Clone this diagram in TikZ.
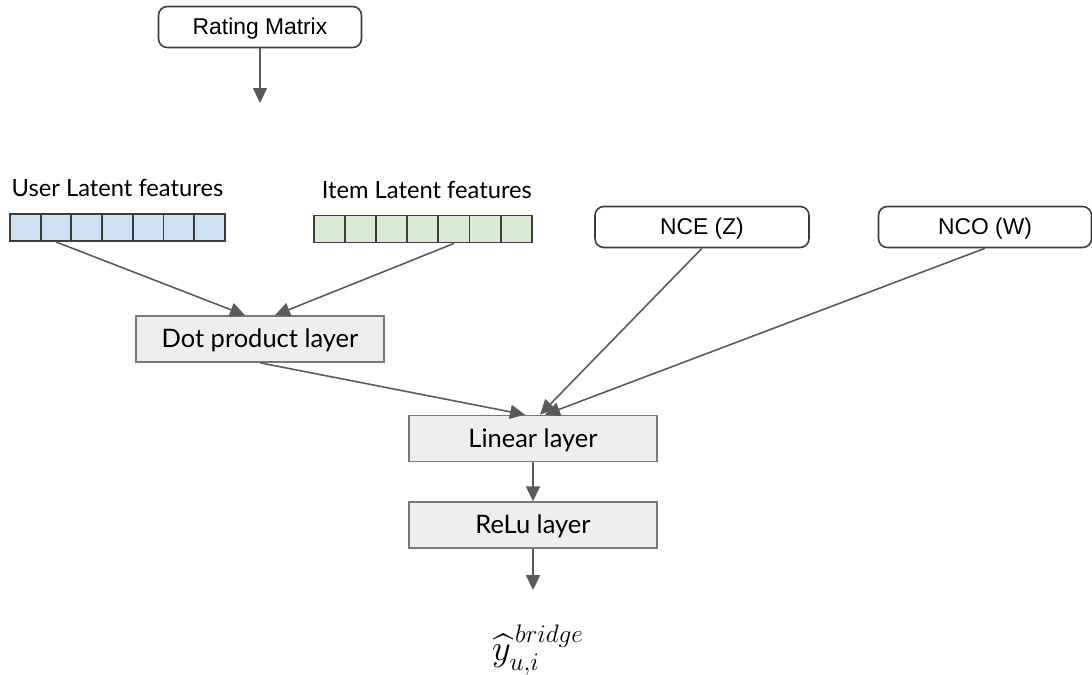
\documentclass[tikz,border=0pt]{standalone}
\usepackage{amsmath}
\usepackage{fontspec}
\usetikzlibrary{arrows.meta, positioning, calc}
\newfontfamily\latofont{Lato}
\newfontfamily\arialfont{Liberation Sans}
\definecolor{usercolor}{RGB}{207,226,243}
\definecolor{itemcolor}{RGB}{217,234,211}
\definecolor{layercolor}{RGB}{238,238,238}
\definecolor{layerborder}{RGB}{120,120,120}
\definecolor{boxborder}{RGB}{60,60,60}
\definecolor{linecolor}{RGB}{90,90,90}
\tikzset{
  inputbox/.style={draw=boxborder, rounded corners=5pt, line width=0.9pt,
                   minimum width=4.06cm, minimum height=0.82cm, fill=white,
                   text depth=0.05em,
                   font=\arialfont\fontsize{13}{15}\selectfont},
  layer/.style={draw=layerborder, fill=layercolor, line width=0.9pt,
                minimum width=4.96cm, minimum height=0.92cm, text depth=0.05em,
                font=\latofont\fontsize{14.5}{17}\selectfont},
  cell/.style={draw=boxborder, fill=#1, line width=1.1pt, inner sep=0pt,
               minimum width=0.614cm, minimum height=0.54cm},
  veclabel/.style={font=\latofont\fontsize{13.5}{16}\selectfont, inner sep=1pt},
  arrow/.style={-{Triangle[length=8.5pt, width=8pt]}, draw=linecolor,
                line width=0.9pt},
}

\begin{document}
\begin{tikzpicture}[x=0.02cm, y=-0.02cm]
  \useasboundingbox (0,0) rectangle (1092,674);

  % --- Inputs ---
  \node[inputbox] (rating) at (260,27) {Rating Matrix};
  \coordinate (ratingend) at (260,103);

  \foreach \k in {1,...,7} {
    \node[cell=usercolor] (u\k) at ({10+30.7*(\k-0.5)},227.5) {};
    \node[cell=itemcolor, minimum width=0.622cm] (i\k) at ({314+31.1*(\k-0.5)},229) {};
  }
  \node[veclabel, above=0.28cm of u4] (ulabel) {User Latent features};
  \node[veclabel, above=0.28cm of i4, xshift=0.08cm] (ilabel) {Item Latent features};

  \node[inputbox, minimum width=4.28cm] (nce) at (702,227) {NCE (Z)};
  \node[inputbox, minimum width=4.26cm] (nco) at (985,227) {NCO (W)};

  % --- Layers ---
  \node[layer] (dot) at (260,339) {Dot product layer};
  \node[layer] (linear) at (533,438.5) {Linear layer};
  \node[layer] (relu) at (533,525) {ReLu layer};
  \coordinate (reluend) at (533,590);

  \node (yhat) at (538,650)
    {\fontsize{21.5}{25}\selectfont$\widehat{y}_{u,i}^{\,bridge}$};

  % --- Connections ---
  \draw[arrow] (rating) -- (ratingend);
  \draw[arrow] (u2.south) -- ($(dot.north)+(-15,0)$);
  \draw[arrow] (i5.south) -- ($(dot.north)+(15,0)$);
  \draw[arrow] (dot.south) -- ($(linear.north)+(-8,0)$);
  \draw[arrow] (nce.south) -- ($(linear.north)+(7,0)$);
  \draw[arrow] (nco.south) -- ($(linear.north)+(12,0)$);
  \draw[arrow] (linear) -- (relu);
  \draw[arrow] (relu) -- (reluend);

\end{tikzpicture}
\end{document}
